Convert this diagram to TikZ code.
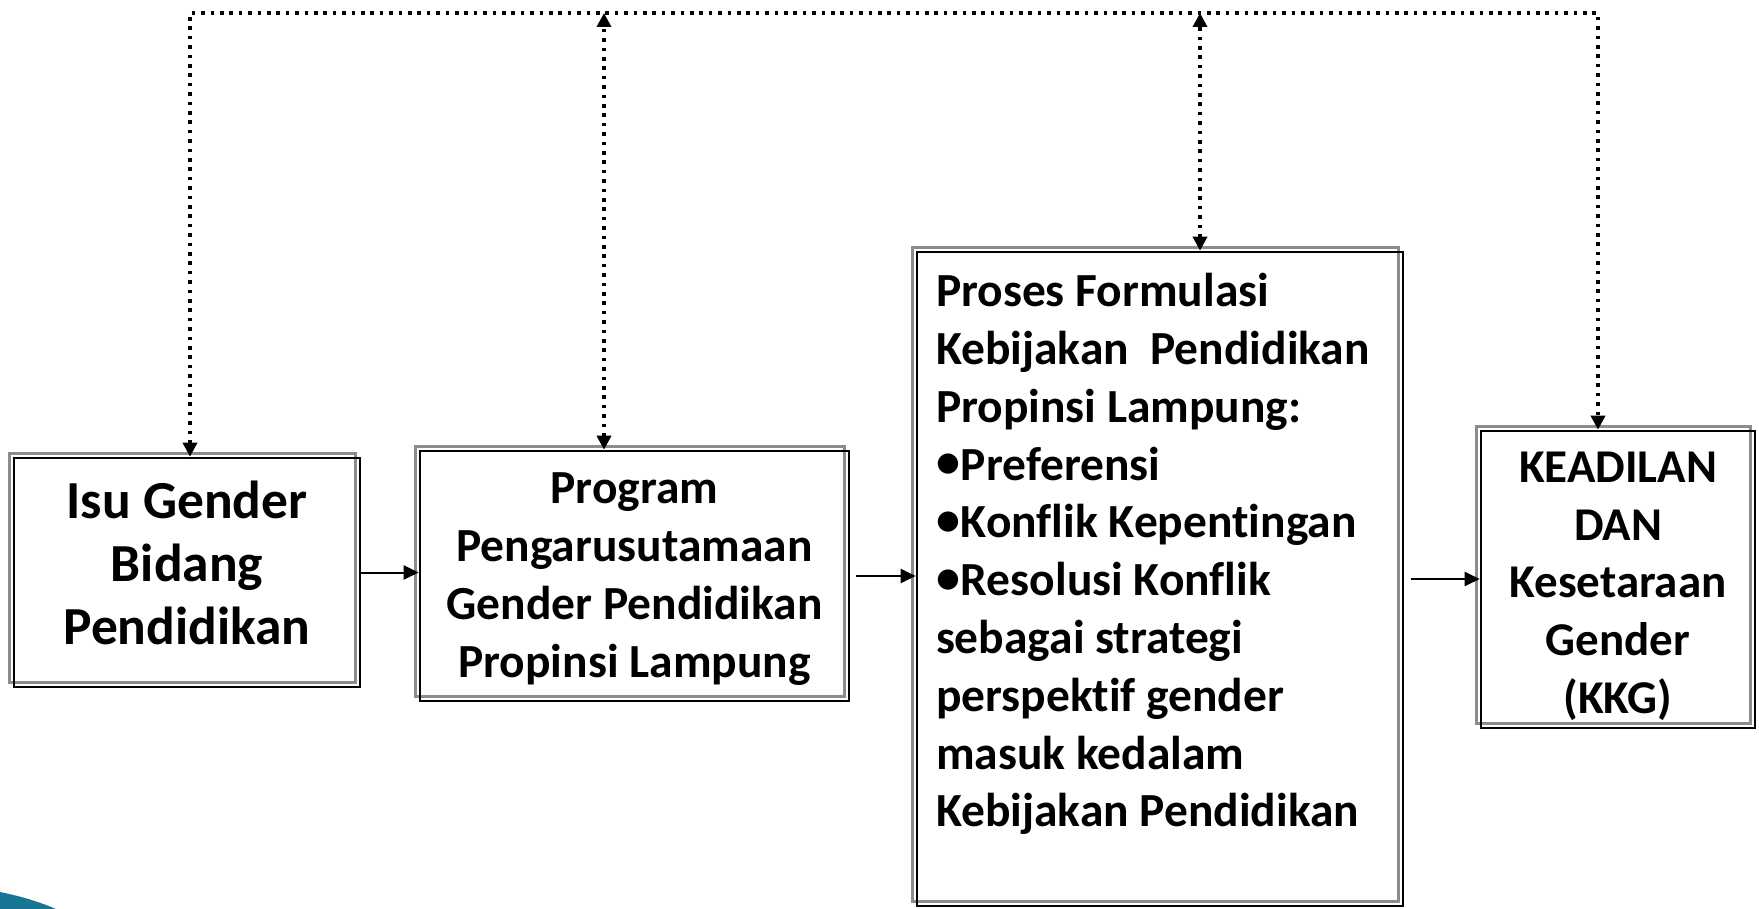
\documentclass[tikz,border=0pt]{standalone}
\usepackage{fontspec}
\setmainfont{Carlito}[Ligatures=NoCommon]
\usetikzlibrary{arrows.meta}
\definecolor{slideteal}{RGB}{24,118,148}
\newcommand{\bulletmark}{\raisebox{2.5pt}{\fontsize{48pt}{48pt}\selectfont\bfseries •}\hspace{1pt}}
\begin{document}
\begin{tikzpicture}[x=1pt,y=-1pt,
  box/.style={draw=black, line width=2.6pt, inner sep=0pt, align=center,
    font=\fontsize{47.5pt}{57.8pt}\selectfont\bfseries,
    preaction={draw=black!45, line width=2.6pt, transform canvas={shift={(-4.5pt,4.5pt)}}}},
  dotline/.style={line width=3.6pt, dash pattern=on 3.6pt off 5.8pt, {Triangle[width=14pt,length=14pt]}-{Triangle[width=14pt,length=14pt]}},
  flow/.style={line width=2pt, -{Triangle[width=14pt,length=15pt]}}]
\useasboundingbox (0,0) rectangle (1759,909);
\fill[slideteal] (0,892) .. controls (20,896) and (40,902) .. (56,909) -- (0,909) -- cycle;

\node[box, minimum width=346pt, minimum height=229pt,
  font=\fontsize{53.5pt}{63pt}\selectfont\bfseries] (b1) at (187,572.5)
  {Isu Gender\\Bidang\\Pendidikan\rule[-20pt]{0pt}{20pt}};
\node[box, minimum width=429pt, minimum height=250pt] (b2) at (634.5,576)
  {\rule{0pt}{37pt}Program\\Pengarusutamaan\\Gender Pendidikan\\Propinsi Lampung};
\node[box, minimum width=486pt, minimum height=654pt, text width=448pt, align=flush left] (b3) at (1160,579)
  {Proses Formulasi\\Kebijakan\ \ Pendidikan\\Propinsi Lampung:\\\bulletmark Preferensi\\\bulletmark Konflik Kepentingan\\\bulletmark Resolusi Konflik\\sebagai strategi\\perspektif gender\\masuk kedalam\\Kebijakan Pendidikan\\\mbox{}};
\node[box, minimum width=274pt, minimum height=297pt,
  font=\fontsize{47pt}{57.8pt}\selectfont\bfseries] (b4) at (1618,579.5)
  {\rule{0pt}{44pt}KEADILAN\\DAN\\Kesetaraan\\Gender\\(KKG)};

\coordinate (t1) at (190,13);
\coordinate (t2) at (604,13);
\coordinate (t3) at (1200,13);
\coordinate (t4) at (1598,13);
\draw[dotline] (t1 |- b1.north) -- (t1) -- (t4) -- (t4 |- b4.north);
\draw[dotline] (t2 |- b2.north) -- (t2);
\draw[dotline] (t3 |- b3.north) -- (t3);

\draw[flow] (b1.east) -- (b1.east -| b2.west);
\draw[flow] ([xshift=6pt]b2.east) -- (b2.east -| b3.west);
\draw[flow] ([xshift=7pt]b3.east) -- (b3.east -| b4.west);
\end{tikzpicture}
\end{document}
